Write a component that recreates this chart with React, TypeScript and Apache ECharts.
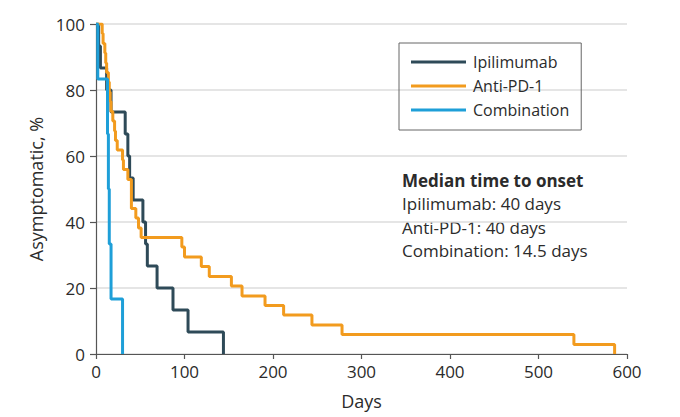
import React, { useEffect, useRef } from "react";
import * as echarts from "echarts";

const seriesNames = ["Ipilimumab", "Anti-PD-1", "Combination"];
const seriesColors = ["#2E4A58", "#F29B1E", "#1E9FD8"];

const ipiDays = [0, 3, 5, 12, 17, 33, 36, 38, 42, 53, 56, 58, 69, 87, 104, 144];
const ipiPct = [100, 93.3, 86.7, 80, 73.3, 66.7, 60, 53.3, 46.7, 40, 33.3, 26.7, 20, 13.3, 6.7, 0];

const pd1Days = [0, 7, 8, 10, 11, 12, 14, 15, 16, 17, 19, 21, 22, 24, 30, 31, 36, 40, 40, 40, 45, 48, 51, 97, 100, 119, 128, 153, 165, 191, 212, 244, 278, 540, 586];
const pd1Pct = [100, 97.1, 94.1, 91.2, 88.2, 85.3, 82.4, 79.4, 76.5, 73.5, 70.6, 67.6, 64.7, 61.8, 58.8, 55.9, 52.9, 50, 47.1, 44.1, 41.2, 38.2, 35.3, 32.4, 29.4, 26.5, 23.5, 20.6, 17.6, 14.7, 11.8, 8.8, 5.9, 2.9, 0];

const comboDays = [0, 2, 13, 14, 15, 17, 30];
const comboPct = [100, 83.3, 66.7, 50, 33.3, 16.7, 0];

const annotationLines = [
  "Median time to onset",
  "Ipilimumab: 40 days",
  "Anti-PD-1: 40 days",
  "Combination: 14.5 days",
];

const xTicks = { min: 0, max: 600, interval: 100 };
const yTicks = { min: 0, max: 100, interval: 20 };

const FONT = "'Open Sans', 'Noto Sans', sans-serif";

function zip(xs: number[], ys: number[]) {
  return xs.map((x, i) => [x, ys[i]]);
}

export default function App() {
  const ref = useRef<HTMLDivElement>(null);
  useEffect(() => {
    if (!ref.current) return;
    const chart = echarts.init(ref.current, undefined, { renderer: "svg" });
    const datasets = [zip(ipiDays, ipiPct), zip(pd1Days, pd1Pct), zip(comboDays, comboPct)];
    chart.setOption({
      animation: false,
      backgroundColor: "#ffffff",
      grid: { left: 96, right: 53, top: 24, bottom: 63 },
      xAxis: {
        type: "value",
        min: xTicks.min,
        max: xTicks.max,
        interval: xTicks.interval,
        name: "Days",
        nameLocation: "middle",
        nameGap: 38,
        nameTextStyle: { fontFamily: FONT, fontSize: 18, color: "#2b2b2b" },
        axisLine: { show: true, lineStyle: { color: "#555", width: 1.2 } },
        axisTick: { show: true, length: 5, lineStyle: { color: "#555", width: 1.2 } },
        axisLabel: { fontFamily: FONT, fontSize: 17, color: "#2b2b2b", margin: 9 },
        splitLine: { show: false },
      },
      yAxis: {
        type: "value",
        min: yTicks.min,
        max: yTicks.max,
        interval: yTicks.interval,
        name: "Asymptomatic, %",
        nameLocation: "middle",
        nameGap: 48,
        nameTextStyle: { fontFamily: FONT, fontSize: 18, color: "#2b2b2b" },
        axisLine: { show: true, lineStyle: { color: "#555", width: 1.2 } },
        axisTick: { show: true, length: 6, lineStyle: { color: "#555", width: 1.2 } },
        axisLabel: { fontFamily: FONT, fontSize: 17, color: "#2b2b2b", margin: 11 },
        splitLine: { show: true, lineStyle: { color: "#dcdcdc", width: 1.5 } },
      },
      legend: {
        data: seriesNames,
        orient: "vertical",
        left: 399,
        top: 43,
        padding: [10, 12, 11, 12],
        itemGap: 6,
        itemWidth: 55,
        itemHeight: 3,
        icon: "rect",
        borderColor: "#666",
        borderWidth: 1,
        textStyle: { fontFamily: FONT, fontSize: 16, color: "#2b2b2b", lineHeight: 18, padding: [0, 0, 0, 2] },
      },
      graphic: annotationLines.map((t, i) => ({
        type: "text",
        x: 402,
        y: 180 + i * 23.6,
        style: {
          text: t,
          fontFamily: FONT,
          fontSize: 17,
          fontWeight: i === 0 ? "bold" : "normal",
          fill: "#2b2b2b",
          verticalAlign: "middle",
        },
      })),
      series: seriesNames.map((name, i) => ({
        name,
        type: "line",
        step: "end",
        data: datasets[i],
        showSymbol: false,
        symbol: "none",
        lineStyle: { color: seriesColors[i], width: 3 },
        itemStyle: { color: seriesColors[i] },
        z: 2 + i,
      })),
    });
    return () => chart.dispose();
  }, []);
  return <div ref={ref} style={{ width: 680, height: 417, position: "absolute", left: 0, top: 0 }} />;
}
